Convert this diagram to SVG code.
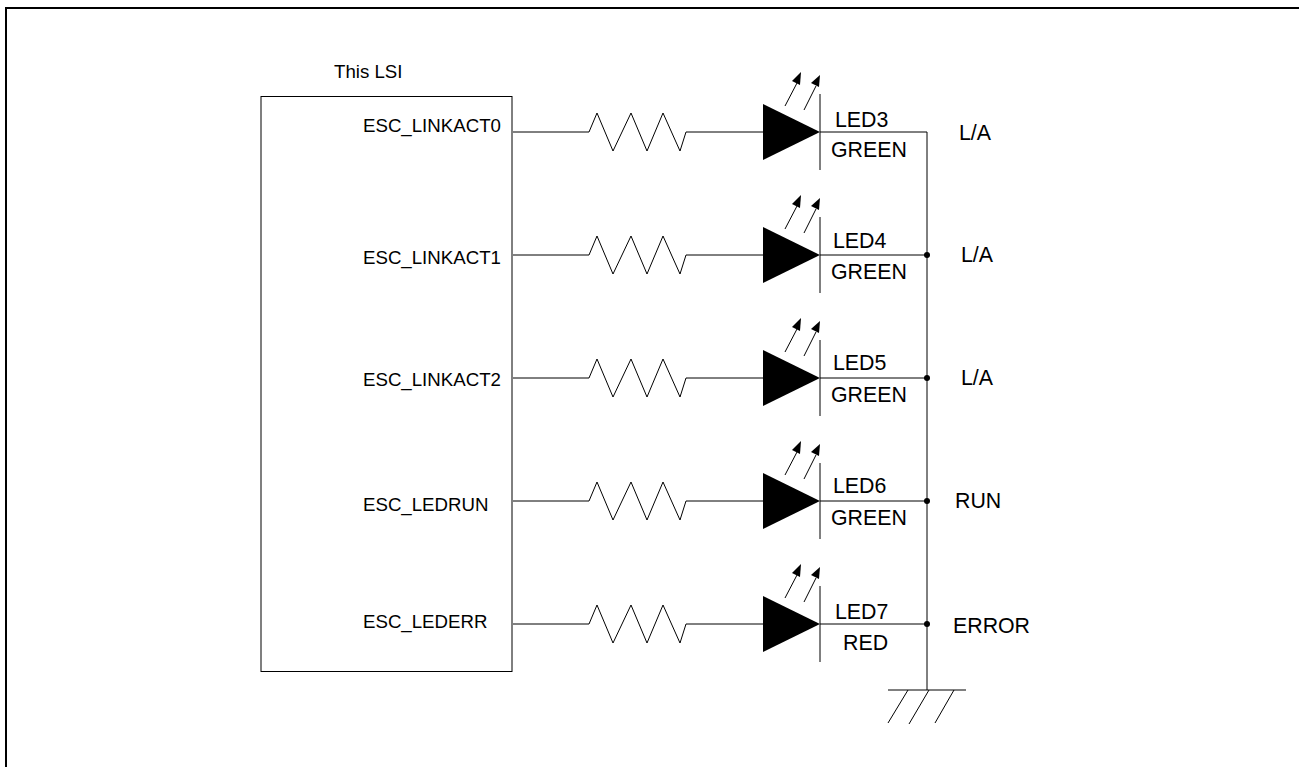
<svg xmlns="http://www.w3.org/2000/svg" width="1299" height="767" viewBox="0 0 1299 767">
<style>
.w{fill:none;stroke:#000;stroke-width:1}
.t{fill:none;stroke:#000;stroke-width:1}
text{font-family:"Liberation Sans",Arial,sans-serif;fill:#000}
.s{font-size:18.67px}
.m{font-size:21.33px}
</style>
<defs>
<g id="led">
<path class="w" d="M513 132H589L597 113L613 151L631 113L647 151L663 113L680 151L686 132H763"/>
<polygon points="763,104 820,132 763,160" fill="#000"/>
<path class="w" d="M820 94V170M820 132H927"/>
<path class="t" d="M785 106L797 83M804 110L816 86"/>
<polygon points="801,72 792,81 800,85" fill="#000"/>
<polygon points="820,75 811,83 819,87" fill="#000"/>
</g>
</defs>
<path d="M6 767V8H1299" fill="none" stroke="#000" stroke-width="2"/>
<g id="lsi"><rect x="261" y="96.500" width="251" height="575" fill="#fff" stroke="#000"/>
<text class="s" x="334" y="78">This LSI</text></g>
<g id="connectors">
<path class="w" d="M927 132V690"/>
<circle cx="927" cy="255" r="3"/><circle cx="927" cy="378" r="3"/><circle cx="927" cy="501" r="3"/><circle cx="927" cy="624" r="3"/>
</g>
<g id="led3"><use href="#led"/><text class="m" x="835" y="127">LED3</text><text class="m" x="831" y="157">GREEN</text><text class="m" x="959" y="140">L/A</text><text class="s" x="363" y="132">ESC_LINKACT0</text></g>
<g id="led4"><use href="#led" y="123"/><text class="m" x="833" y="248">LED4</text><text class="m" x="831" y="279">GREEN</text><text class="m" x="961" y="262">L/A</text><text class="s" x="363" y="264">ESC_LINKACT1</text></g>
<g id="led5"><use href="#led" y="246"/><text class="m" x="833" y="370">LED5</text><text class="m" x="831" y="402">GREEN</text><text class="m" x="961" y="385">L/A</text><text class="s" x="363" y="386">ESC_LINKACT2</text></g>
<g id="led6"><use href="#led" y="369"/><text class="m" x="833" y="493">LED6</text><text class="m" x="831" y="525">GREEN</text><text class="m" x="955" y="508">RUN</text><text class="s" x="363" y="511">ESC_LEDRUN</text></g>
<g id="led7"><use href="#led" y="492"/><text class="m" x="835" y="619">LED7</text><text class="m" x="843" y="650">RED</text><text class="m" x="953" y="633">ERROR</text><text class="s" x="363" y="628">ESC_LEDERR</text></g>
<g id="ground"><path class="t" d="M888 690H966M908 690L888 723M929 690L909 724M954 690L935 723"/></g>
</svg>
